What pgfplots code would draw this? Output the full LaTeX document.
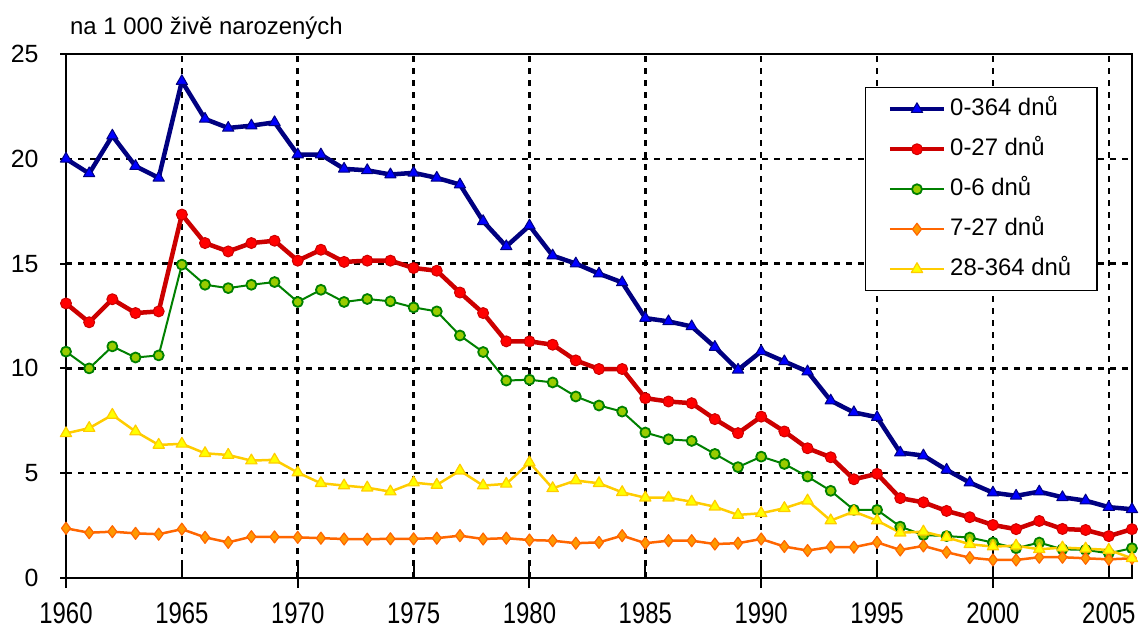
\documentclass[border=0pt]{standalone}
\usepackage{fontspec}
\setmainfont{Liberation Sans}
\newfontfamily\narrowfont{Liberation Sans}[FakeStretch=0.8]
\usepackage{pgfplots}
\usepackage{pgfplotstable}
\pgfplotsset{compat=1.18}
\definecolor{navyline}{RGB}{0,0,128}
\definecolor{bluefill}{RGB}{0,0,255}
\definecolor{redline}{RGB}{204,0,0}
\definecolor{redfill}{RGB}{255,0,0}
\definecolor{greenline}{RGB}{0,128,0}
\definecolor{greenfill}{RGB}{153,204,0}
\definecolor{orangeline}{RGB}{255,102,0}
\definecolor{orangefill}{RGB}{255,153,0}
\definecolor{yellowline}{RGB}{255,204,0}
\definecolor{yellowfill}{RGB}{255,255,0}
\pgfplotstableread{
year blue red green orange yellow
1960 20.0 13.1 10.8 2.37 6.9
1961 19.3 12.2 10.0 2.16 7.15
1962 21.1 13.3 11.05 2.21 7.78
1963 19.65 12.64 10.52 2.13 6.99
1964 19.09 12.72 10.62 2.09 6.35
1965 23.7 17.34 14.95 2.33 6.4
1966 21.9 15.98 13.99 1.94 5.95
1967 21.47 15.58 13.83 1.70 5.87
1968 21.58 15.98 13.99 1.97 5.6
1969 21.74 16.09 14.12 1.96 5.64
1970 20.2 15.14 13.17 1.94 5.03
1971 20.2 15.66 13.75 1.90 4.52
1972 19.52 15.08 13.17 1.86 4.41
1973 19.45 15.14 13.31 1.85 4.31
1974 19.25 15.14 13.2 1.87 4.12
1975 19.33 14.79 12.91 1.87 4.55
1976 19.09 14.66 12.72 1.90 4.44
1977 18.77 13.62 11.57 2.02 5.12
1978 17.02 12.64 10.78 1.86 4.41
1979 15.82 11.29 9.42 1.90 4.49
1980 16.81 11.29 9.46 1.81 5.51
1981 15.38 11.13 9.33 1.78 4.28
1982 15.0 10.38 8.66 1.66 4.65
1983 14.52 9.97 8.23 1.70 4.52
1984 14.1 9.97 7.94 2.02 4.09
1985 12.4 8.58 6.94 1.66 3.83
1986 12.24 8.42 6.62 1.78 3.83
1987 12.0 8.34 6.54 1.78 3.64
1988 11.02 7.58 5.92 1.62 3.4
1989 9.93 6.91 5.29 1.66 3.01
1990 10.81 7.7 5.79 1.86 3.09
1991 10.33 6.99 5.44 1.5 3.33
1992 9.85 6.19 4.84 1.31 3.69
1993 8.46 5.76 4.16 1.48 2.74
1994 7.9 4.71 3.25 1.47 3.17
1995 7.67 4.97 3.25 1.7 2.74
1996 5.98 3.81 2.45 1.34 2.16
1997 5.84 3.61 2.05 1.53 2.21
1998 5.16 3.2 2.0 1.23 1.94
1999 4.55 2.9 1.93 0.97 1.61
2000 4.07 2.53 1.69 0.86 1.5
2001 3.92 2.33 1.42 0.86 1.54
2002 4.12 2.72 1.69 0.99 1.37
2003 3.85 2.34 1.37 0.99 1.45
2004 3.69 2.29 1.34 0.94 1.4
2005 3.38 2.0 1.18 0.89 1.34
2006 3.28 2.33 1.42 0.94 0.94
}\datatable
\begin{document}
\begin{tikzpicture}
\useasboundingbox (0,0) rectangle (1139bp,634bp);
\begin{axis}[
  at={(66bp,56bp)}, anchor=south west,
  scale only axis, width=1066bp, height=524bp,
  xmin=1960, xmax=2006, ymin=0, ymax=25,
  clip=false,
  axis line style={line width=2bp, black},
  xtick={1960,1965,...,2005},
  ytick={0,5,...,25},
  x tick label style={/pgf/number format/set thousands separator={}},
  /pgf/number format/assume math mode=true,
  x tick label style={font=\narrowfont\fontsize{30}{34}\selectfont, black, yshift=-21bp},
  y tick label style={font=\fontsize{25}{29}\selectfont, black, xshift=-18bp},
  major tick length=12bp,
  x tick style={line width=2bp, black},
  y tick style={line width=2bp, black},
  ytick align=center,
  xtick align=inside,
  xtick pos=bottom, ytick pos=left,
  extra x ticks={1960,1970,...,2000},
  extra x tick labels={},
  extra x tick style={grid=none, tick align=center, major tick length=20bp},
  grid=major,
  major grid style={black, line width=2.5bp, dash pattern=on 6bp off 6bp},
  legend style={at={(1,1)}, xshift=-34bp, yshift=-33bp, anchor=north east,
    draw=black, line width=1.5bp, font=\fontsize{24}{28}\selectfont,
    row sep=9bp, inner xsep=22bp, inner ysep=6bp,
    nodes={inner sep=4bp, text height=18bp, text depth=5bp}},
  legend cell align=left,
  legend image code/.code={\draw[mark repeat=2,mark phase=2,#1] plot coordinates {(0bp,0bp) (27bp,0bp) (54bp,0bp)};},
]
\addplot[color=navyline, line width=4.5bp, line join=round, mark=triangle*, mark size=6.5bp,
  mark options={fill=bluefill, draw=navyline, line width=1bp, solid}] table[x=year,y=blue] {\datatable};
\addlegendentry{0-364 dnů}
\addplot[color=redline, line width=4.5bp, line join=round, mark=*, mark size=5.5bp,
  mark options={fill=redfill, draw=redline, line width=1bp, solid}] table[x=year,y=red] {\datatable};
\addlegendentry{0-27 dnů}
\addplot[color=greenline, line width=2bp, line join=round, mark=*, mark size=5bp,
  mark options={fill=greenfill, draw=greenline, line width=1.8bp, solid}] table[x=year,y=green] {\datatable};
\addlegendentry{0-6 dnů}
\addplot[color=orangeline, line width=2.5bp, line join=round, mark=diamond*, mark size=6bp,
  mark options={fill=orangefill, draw=orangeline, line width=1.2bp, solid}] table[x=year,y=orange] {\datatable};
\addlegendentry{7-27 dnů}
\addplot[color=yellowline, line width=2.5bp, line join=round, mark=triangle*, mark size=6.5bp,
  mark options={fill=yellowfill, draw=yellowline, line width=1.2bp, solid}] table[x=year,y=yellow] {\datatable};
\addlegendentry{28-364 dnů}
\node[anchor=base west, font=\fontsize{24}{28}\selectfont, inner sep=0pt] at (rel axis cs:0,1) [xshift=4bp, yshift=19bp] {na 1 000 živě narozených};
\end{axis}
\end{tikzpicture}
\end{document}
